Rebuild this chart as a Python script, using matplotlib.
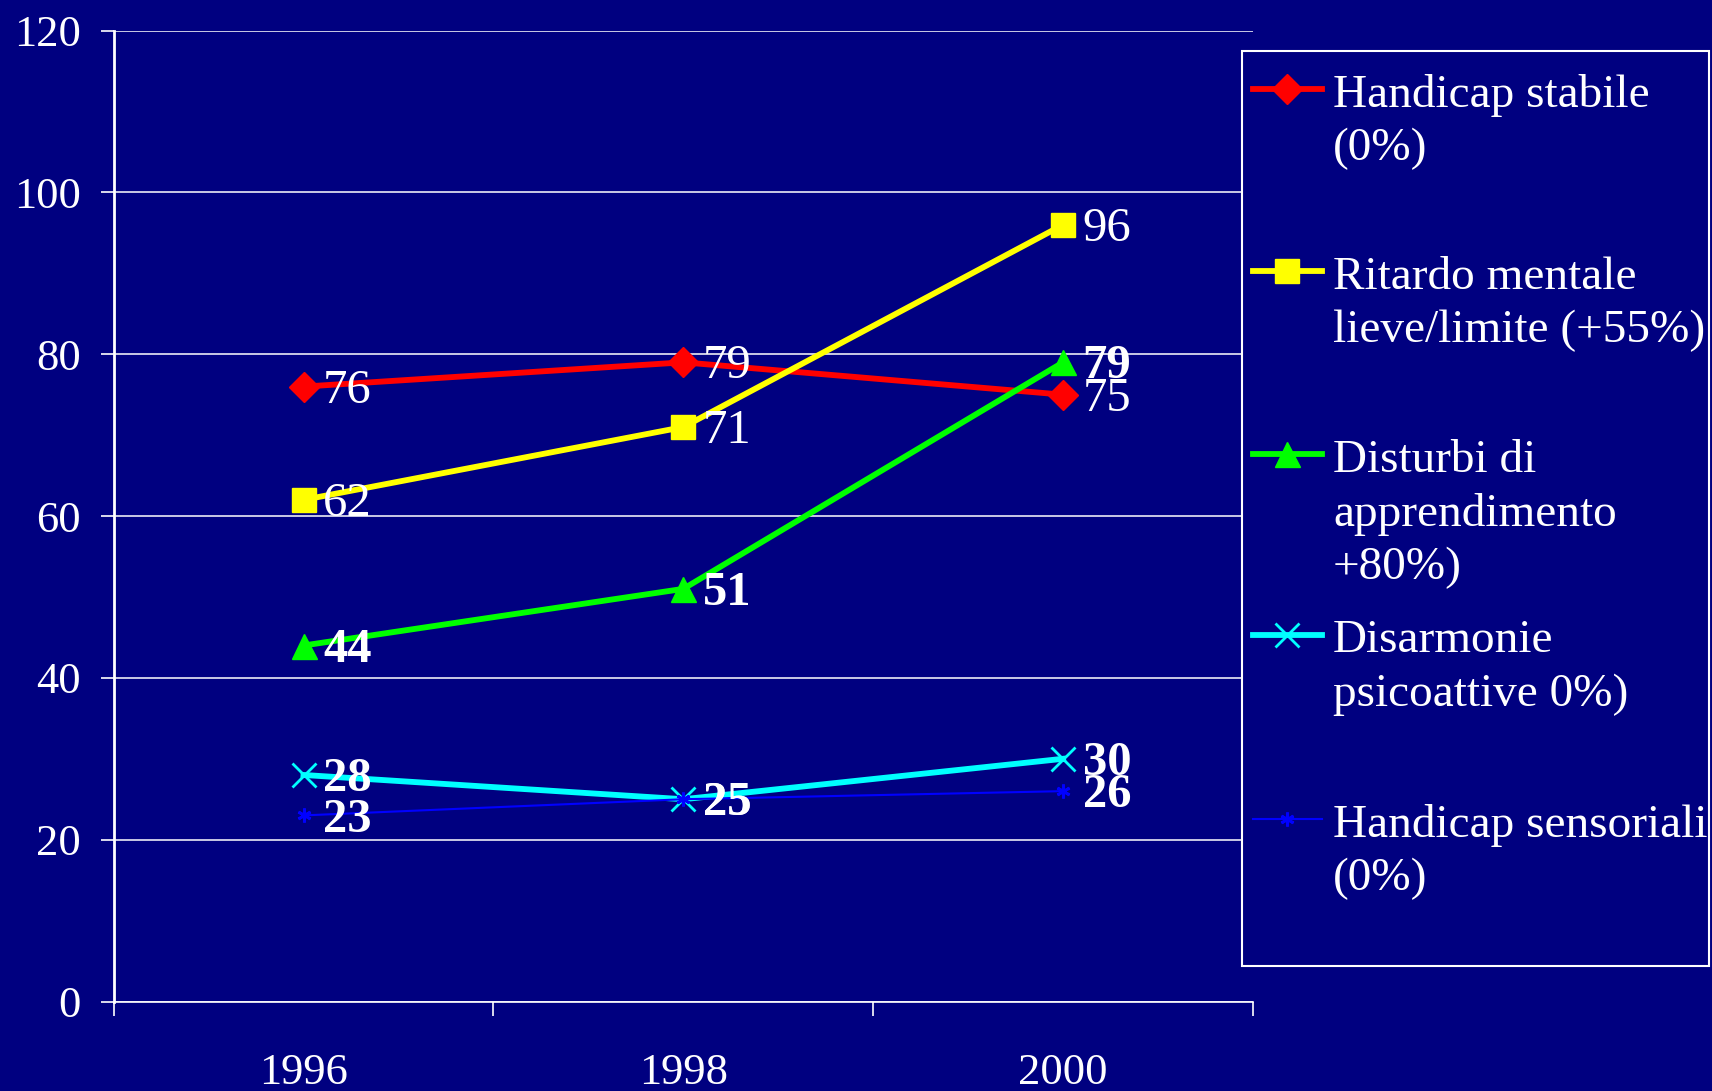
import matplotlib
matplotlib.use("Agg")
import matplotlib.pyplot as plt
from matplotlib.lines import Line2D
from matplotlib.patches import Rectangle

# data
years = ['1996', '1998', '2000']
handicap_stabile = [76, 79, 75]
ritardo_mentale = [62, 71, 96]
disturbi_apprend = [44, 51, 79]
disarmonie = [28, 25, 30]
handicap_sensoriali = [23, 25, 26]

labels = ['Handicap stabile\n(0%)',
          'Ritardo mentale\nlieve/limite (+55%)',
          'Disturbi di\napprendimento\n+80%)',
          'Disarmonie\npsicoattive 0%)',
          'Handicap sensoriali\n(0%)']
series = [handicap_stabile, ritardo_mentale, disturbi_apprend, disarmonie, handicap_sensoriali]
colors = ['#FF0000', '#FFFF00', '#00FF00', '#00FFFF', '#0000FF']
markers = ['D', 's', '^', 'x', (6, 2, 0)]
msizes = [15.5, 17, 18, 17, 10]
lwidths = [4.2, 4.2, 4.2, 4.2, 1.5]
bold = [False, False, True, True, True]

bg = '#000080'
plt.rcParams['font.family'] = ['Liberation Serif', 'DejaVu Serif']

W, H = 1712, 1091
fig = plt.figure(figsize=(W / 100, H / 100), dpi=100, facecolor=bg)
ax = fig.add_axes([113.6 / W, 1 - 1001.5 / H, (1253 - 113.6) / W, (1001.5 - 30.6) / H])
ax.set_facecolor(bg)

x = list(range(len(years)))
for vals, c, m, ms, lw, b in zip(series, colors, markers, msizes, lwidths, bold):
    mew = 2 if m in ('x', (6, 2, 0)) else 1
    ax.plot(x, vals, color=c, marker=m, markersize=ms, linewidth=lw,
            markeredgewidth=mew, zorder=3)
    for xi, v in zip(x, vals):
        ax.annotate(str(v), (xi, v), xytext=(14, -3), textcoords='offset points',
                    ha='left', va='center', color='white', fontsize=35,
                    fontweight='bold' if b else 'normal', zorder=4)

ax.set_xlim(-0.5, 2.5)
ax.set_ylim(0, 120)
ax.set_yticks(range(0, 121, 20))
ax.set_xticks([-0.5, 0.5, 1.5, 2.5])
ax.set_xticklabels([])
ax.set_xticks(x, minor=True)
ax.set_xticklabels(years, minor=True)
ax.tick_params(axis='x', which='major', direction='out', length=10, width=1.2, colors='white')
ax.tick_params(axis='x', which='minor', length=0, pad=37, labelsize=32, labelcolor='white')
ax.tick_params(axis='y', direction='out', length=9.4, width=1.2, pad=14,
               colors='white', labelsize=32)
ax.grid(axis='y', color='white', linewidth=1.1, zorder=1)
ax.set_axisbelow(True)
for s in ['top', 'right']:
    ax.spines[s].set_visible(False)
for s in ['left', 'bottom']:
    ax.spines[s].set_color('white')
ax.spines['left'].set_linewidth(2)
ax.spines['bottom'].set_linewidth(1.2)

# legend drawn by hand so entries line up like the original
fig.patches.append(Rectangle((1242 / W, 1 - 966 / H), (1709 - 1242) / W, (966 - 51) / H,
                             transform=fig.transFigure, facecolor=bg, edgecolor='white',
                             linewidth=1.5, zorder=5))
entry_y = [89, 271, 454, 635, 819]
for lab, c, m, ms, lw, yp in zip(labels, colors, markers, msizes, lwidths, entry_y):
    yf = 1 - yp / H
    fig.add_artist(Line2D([1253 / W, 1322 / W], [yf, yf], transform=fig.transFigure,
                          color=c, linewidth=lw, zorder=6))
    mew = 2 if m in ('x', (6, 2, 0)) else 1
    fig.add_artist(Line2D([1287 / W], [yf], transform=fig.transFigure, color=c,
                          marker=m, markersize=ms, markeredgewidth=mew, zorder=6))
    fig.text(1333 / W, yf + 15 / H, lab, color='white', fontsize=34, va='top',
             ha='left', linespacing=1.34, zorder=7)

fig.savefig('out.png', dpi=100, facecolor=bg)
